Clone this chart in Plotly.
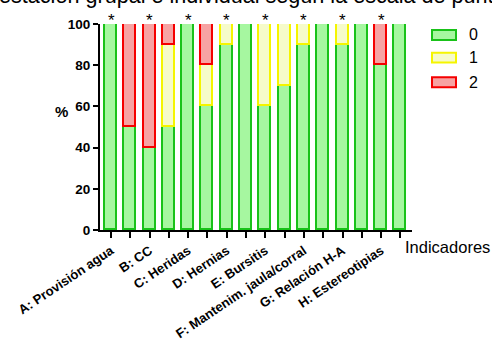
import plotly.graph_objects as go

# ---- data ----
categories = ["A: Provisión agua", "B: CC", "C: Heridas", "D: Hernias", "E: Bursitis",
              "F: Mantenim. jaula/corral", "G: Relación H-A", "H: Estereotipias"]
bar_pos = list(range(16))  # two bars per indicator
score0 = [100, 50, 40, 50, 100, 60, 90, 100, 60, 70, 90, 100, 90, 100, 80, 100]
score1 = [0, 0, 0, 40, 0, 20, 10, 0, 40, 30, 10, 0, 10, 0, 0, 0]
score2 = [0, 50, 60, 10, 0, 20, 0, 0, 0, 0, 0, 0, 0, 0, 20, 0]
stars = ["*", "", "*", "", "*", "", "*", "", "*", "", "*", "", "*", "", "*", ""]
series_names = ["0", "1", "2"]
y_ticks = [0, 20, 40, 60, 80, 100]

fills = ["#a6f7a0", "#f6fbca", "#f7a3a3"]
lines = ["#19c219", "#f5f500", "#f50000"]

FONT = "Arial, Liberation Sans, sans-serif"

fig = go.Figure()
for vals, name, fc, lc in zip([score0, score1, score2], series_names, fills, lines):
    fig.add_trace(go.Bar(
        x=bar_pos, y=[v if v else None for v in vals], name=name,
        marker=dict(color=fc, line=dict(color=lc, width=1.8)),
        width=0.62, showlegend=False, hoverinfo="skip"))

ticktext = []
for i in bar_pos:
    ticktext.append("<b>%s</b>" % categories[i // 2] if i % 2 == 0 else "")

fig.update_layout(
    width=492, height=340, autosize=False,
    margin=dict(l=100, r=80, t=24, b=110),
    barmode="stack", bargap=0,
    plot_bgcolor="white", paper_bgcolor="white",
    font=dict(family=FONT, color="black"),
    xaxis=dict(range=[-0.57, 15.6], tickvals=bar_pos, ticktext=ticktext,
               tickangle=-34, ticks="outside", ticklen=6, tickwidth=2,
               tickcolor="black", showline=True, linecolor="black", linewidth=2,
               showgrid=False, zeroline=False, tickfont=dict(size=13.1),
               automargin=False),
    yaxis=dict(range=[0, 100], tickvals=y_ticks,
               ticktext=["<b>%d</b>" % t for t in y_ticks],
               ticks="outside", ticklen=5, tickwidth=2, tickcolor="black",
               showline=True, linecolor="black", linewidth=2,
               showgrid=False, zeroline=False, tickfont=dict(size=13.5),
               automargin=False),
)

# significance stars
for x, s in zip(bar_pos, stars):
    if s:
        fig.add_annotation(x=x, y=100, text=s, showarrow=False, yanchor="middle",
                           yshift=4, font=dict(size=17, family=FONT))

# y label
fig.add_annotation(xref="paper", yref="paper", x=(53 - 100) / 312, y=(230.5 - 112) / 206.5,
                   text="<b>%</b>", showarrow=False, font=dict(size=15))
# x label
fig.add_annotation(xref="paper", yref="paper", x=(403 - 100) / 312, y=(230.5 - 248) / 206.5,
                   xanchor="left", yanchor="middle", text="Indicadores", showarrow=False,
                   font=dict(size=16.5))
# cropped title
fig.add_annotation(xref="paper", yref="paper", x=(-15 - 100) / 312, y=(230.5 - 8.5) / 206.5,
                   xanchor="left", yanchor="bottom", yshift=-1,
                   text="gestación grupal e individual según la escala de puntuación",
                   showarrow=False, font=dict(size=21.6))

# legend
leg_y = [35, 57.7, 82.5]
for name, fc, lc, yc in zip(series_names, fills, lines, leg_y):
    fig.add_shape(type="rect", xref="paper", yref="paper",
                  x0=(432 - 100) / 312, x1=(456 - 100) / 312,
                  y0=(230.5 - (yc - 5)) / 206.5, y1=(230.5 - (yc + 5)) / 206.5,
                  fillcolor=fc, line=dict(color=lc, width=2))
    fig.add_annotation(xref="paper", yref="paper", x=(467 - 100) / 312,
                       y=(230.5 - yc) / 206.5, xanchor="left", yanchor="middle",
                       text=name, showarrow=False, font=dict(size=16))

fig.write_html("out.html", config={"displayModeBar": False},
               post_script="document.body.style.margin='0';document.body.style.overflow='hidden';")
